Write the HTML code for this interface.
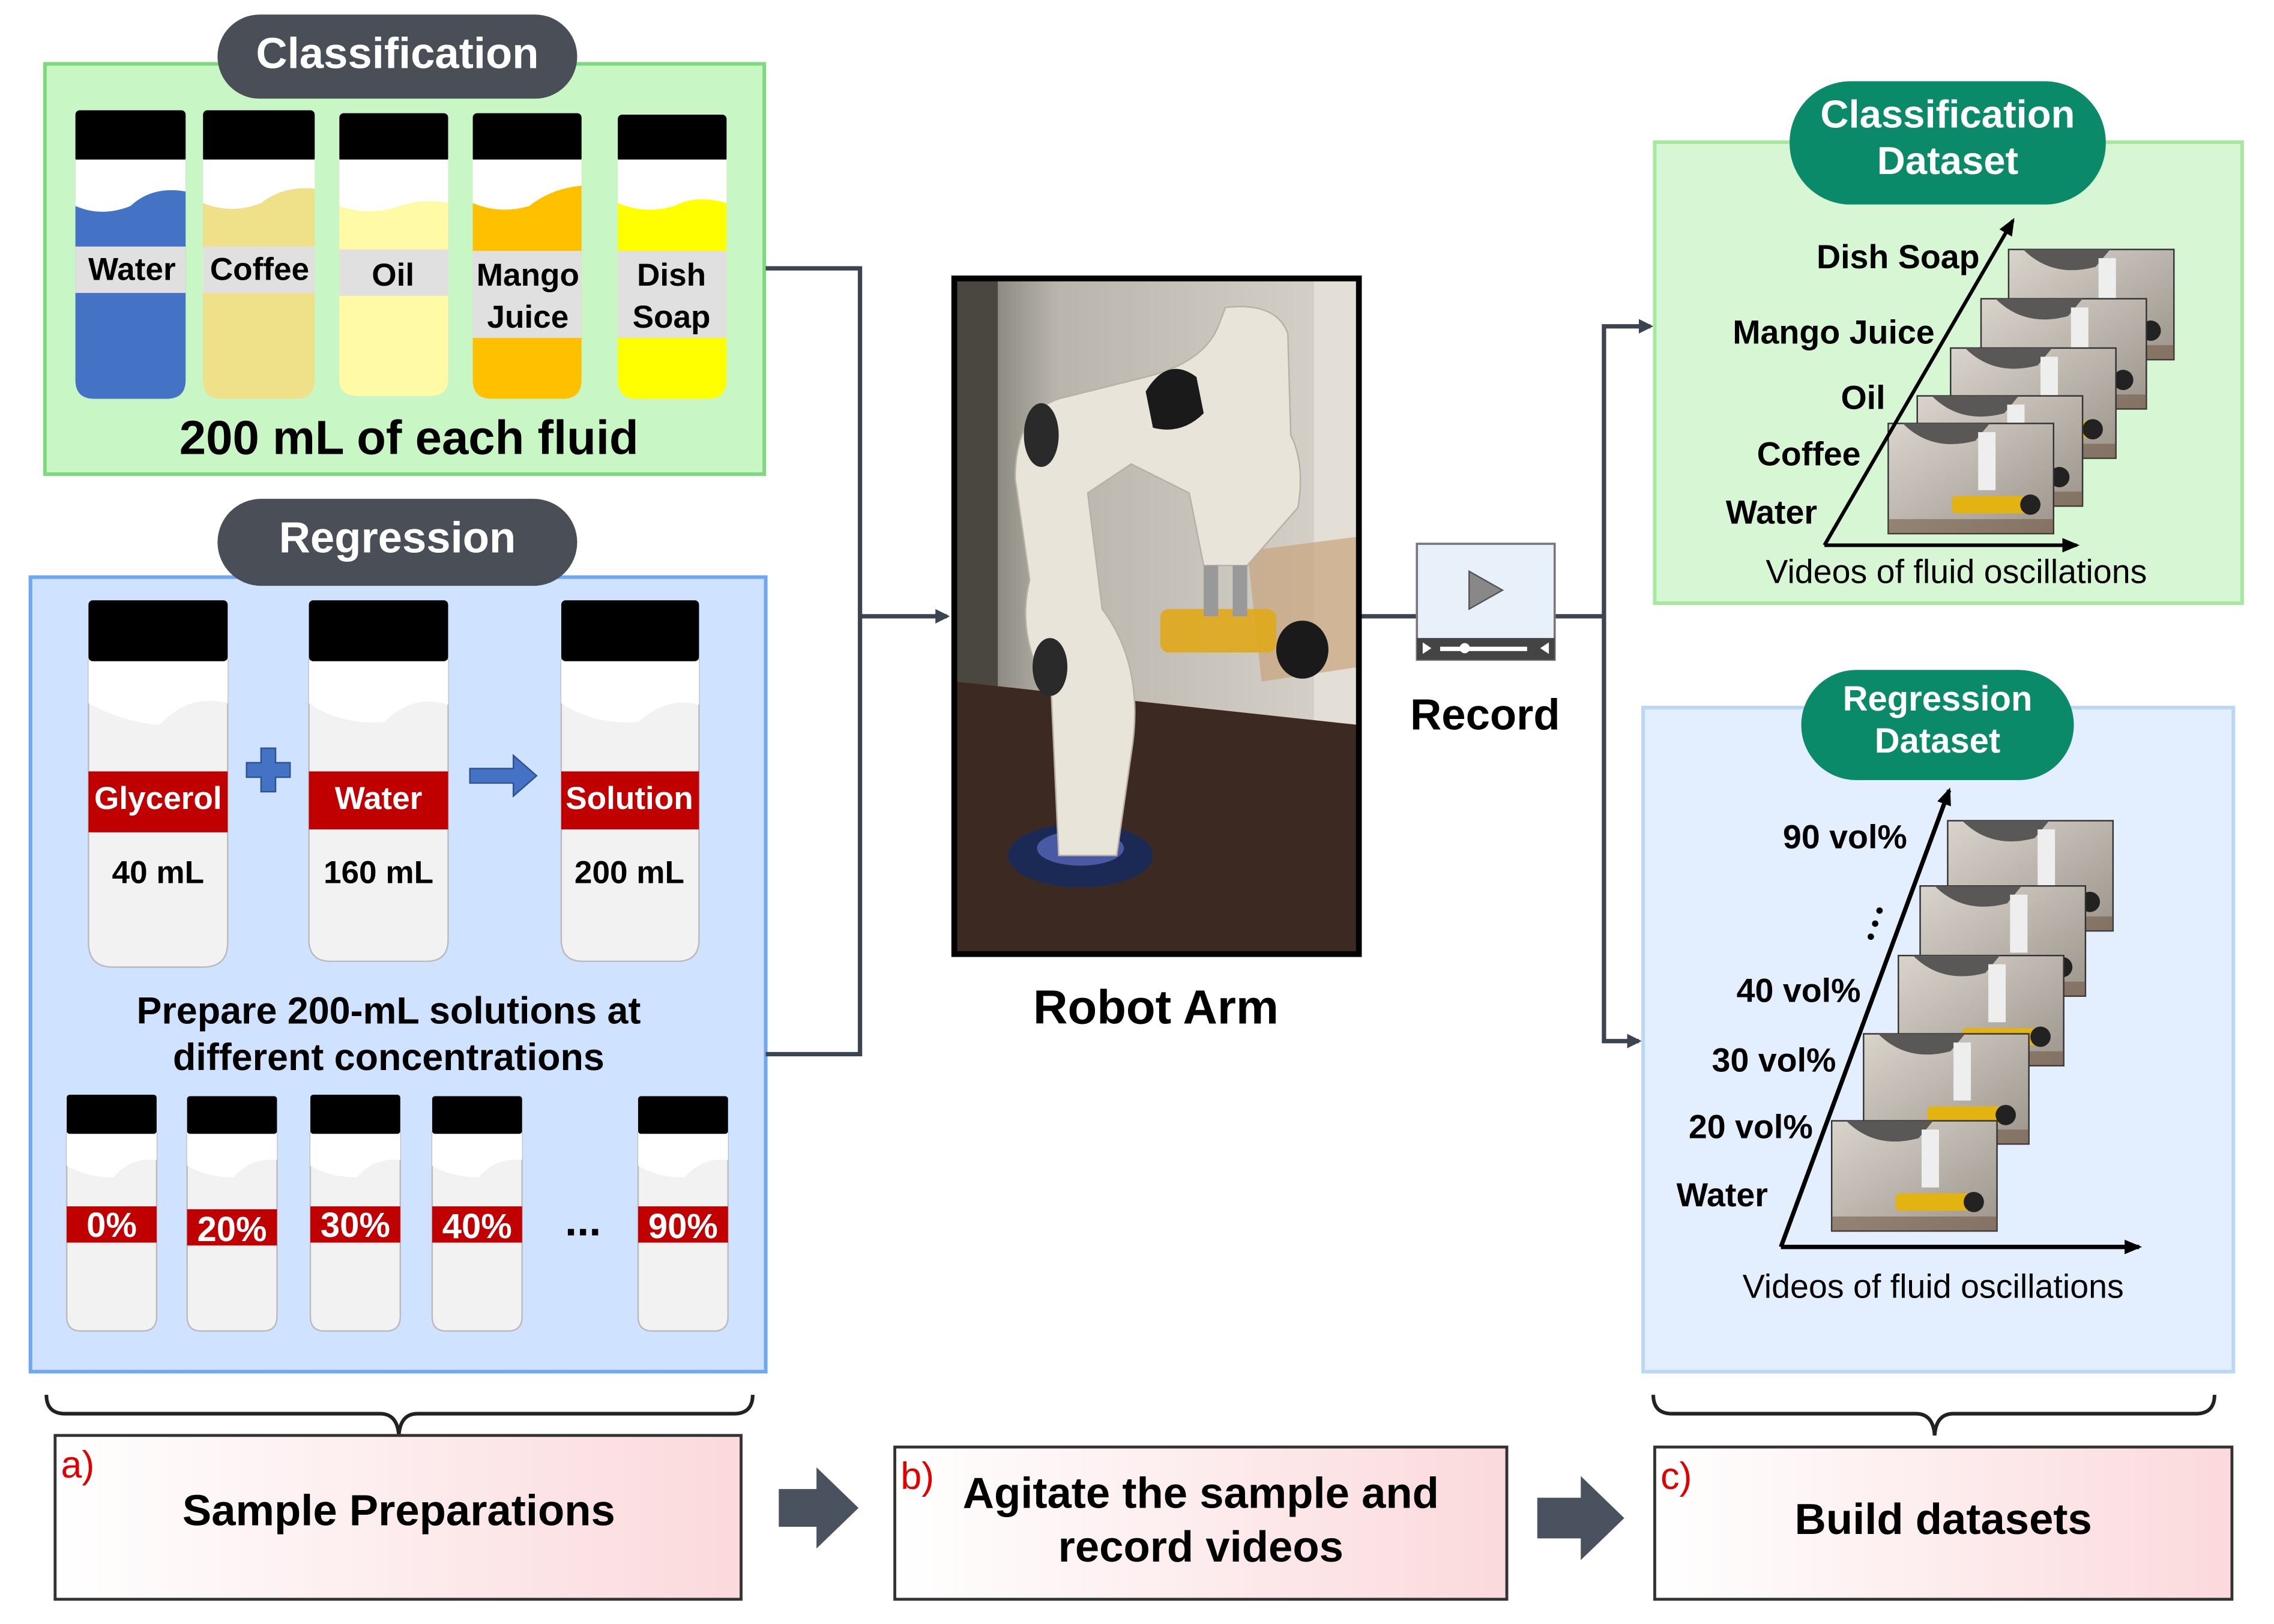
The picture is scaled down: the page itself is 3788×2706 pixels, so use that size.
<!DOCTYPE html>
<html><head><meta charset="utf-8"><style>
html,body{margin:0;padding:0;background:#fff}
svg{display:block}
text{font-family:"Liberation Sans",Arial,sans-serif}
</style></head><body>
<svg xmlns="http://www.w3.org/2000/svg" width="3788" height="2706" viewBox="0 0 1568 1120">
<defs>
<marker id="ah" markerWidth="10" markerHeight="10" refX="8" refY="5" orient="auto" markerUnits="userSpaceOnUse"><path d="M0,0 L10,5 L0,10 Z" fill="#3d4451"/></marker>
<marker id="ak" markerWidth="12" markerHeight="10" refX="10" refY="5" orient="auto" markerUnits="userSpaceOnUse"><path d="M0,0 L12,5 L0,10 Z" fill="#000"/></marker>
<linearGradient id="pk" x1="0" y1="0" x2="1" y2="0"><stop offset="0" stop-color="#fff"/><stop offset="1" stop-color="#fbd9dc"/></linearGradient>
<linearGradient id="wall" x1="0" y1="0" x2="1" y2="0"><stop offset="0" stop-color="#6b6a62"/><stop offset="0.25" stop-color="#b9b5ad"/><stop offset="1" stop-color="#d8d3cb"/></linearGradient>
<linearGradient id="fr" x1="0" y1="0" x2="1" y2="1"><stop offset="0" stop-color="#d9d4cc"/><stop offset="1" stop-color="#9d958c"/></linearGradient>
<g id="frame">
<rect x="0" y="0" width="114" height="76" fill="url(#fr)" stroke="#333" stroke-width="1"/>
<path d="M10,0 Q30,20 60,12 L70,0 Z" fill="#5a5856"/>
<rect x="62" y="6" width="12" height="40" fill="#eee"/>
<rect x="44" y="50" width="52" height="12" fill="#e3b312" rx="3"/>
<circle cx="98" cy="56" r="7" fill="#222"/>
<rect x="0" y="66" width="114" height="10" fill="#6a4f3c" opacity="0.5"/>
</g>
</defs>

<rect x="31" y="44" width="496" height="283" fill="#c8f6c4" stroke="#7ed87e" stroke-width="2.5"/>
<rect x="150" y="10" width="248" height="58" rx="29" fill="#4a4f57"/>
<text x="274" y="47" font-size="30" font-weight="bold" fill="#fff" text-anchor="middle">Classification</text>

<g>
<rect x="52" y="76" width="76" height="36" rx="3" fill="#000"/>
<path d="M52,110 H128 V262 Q128,275 115,275 H65 Q52,275 52,262 Z" fill="#4472c4"/>
<path d="M52,110 H128 V132 Q105,128 90,142 Q70,150 52,142 Z" fill="#fff"/>
<rect x="52" y="170" width="76" height="32" fill="#e0e0e0"/>
<text x="91" y="193" font-size="22" font-weight="bold" text-anchor="middle">Water</text>

<rect x="140" y="76" width="77" height="36" rx="3" fill="#000"/>
<path d="M140,110 H217 V262 Q217,275 204,275 H153 Q140,275 140,262 Z" fill="#efe08a"/>
<path d="M140,110 H217 V130 Q195,128 180,140 Q160,148 140,140 Z" fill="#fff"/>
<rect x="140" y="170" width="77" height="32" fill="#e0e0e0"/>
<text x="179" y="193" font-size="22" font-weight="bold" text-anchor="middle">Coffee</text>

<rect x="234" y="78" width="75" height="34" rx="3" fill="#000"/>
<path d="M234,110 H309 V262 Q309,273 296,273 H247 Q234,273 234,262 Z" fill="#fffaa6"/>
<path d="M234,110 H309 V140 Q290,136 270,144 Q250,148 234,142 Z" fill="#fff"/>
<rect x="234" y="172" width="75" height="32" fill="#e0e0e0"/>
<text x="271" y="197" font-size="22" font-weight="bold" text-anchor="middle">Oil</text>

<rect x="326" y="78" width="75" height="34" rx="3" fill="#000"/>
<path d="M326,110 H401 V262 Q401,275 388,275 H339 Q326,275 326,262 Z" fill="#ffc000"/>
<path d="M326,110 H401 V128 Q380,130 365,142 Q345,148 326,140 Z" fill="#fff"/>
<rect x="326" y="173" width="75" height="60" fill="#e0e0e0"/>
<text x="364" y="197" font-size="22" font-weight="bold" text-anchor="middle">Mango</text>
<text x="364" y="226" font-size="22" font-weight="bold" text-anchor="middle">Juice</text>

<rect x="426" y="79" width="75" height="33" rx="3" fill="#000"/>
<path d="M426,110 H501 V262 Q501,275 488,275 H439 Q426,275 426,262 Z" fill="#ffff00"/>
<path d="M426,110 H501 V140 Q480,134 465,142 Q445,148 426,140 Z" fill="#fff"/>
<rect x="426" y="173" width="75" height="60" fill="#e0e0e0"/>
<text x="463" y="197" font-size="22" font-weight="bold" text-anchor="middle">Dish</text>
<text x="463" y="226" font-size="22" font-weight="bold" text-anchor="middle">Soap</text>
</g>
<text x="282" y="313" font-size="33" font-weight="bold" text-anchor="middle">200 mL of  each fluid</text>

<rect x="21" y="398" width="507" height="548" fill="#cfe2ff" stroke="#6fa8f0" stroke-width="2.5"/>
<rect x="150" y="344" width="248" height="60" rx="30" fill="#4a4f57"/>
<text x="274" y="381" font-size="30" font-weight="bold" fill="#fff" text-anchor="middle">Regression</text>

<g stroke="#bbb" stroke-width="1">
<path d="M61,455 H157 V650 Q157,667 140,667 H78 Q61,667 61,650 Z" fill="#f2f2f2"/>
<path d="M213,455 H309 V648 Q309,663 294,663 H228 Q213,663 213,648 Z" fill="#f2f2f2"/>
<path d="M387,455 H482 V648 Q482,663 467,663 H402 Q387,663 387,648 Z" fill="#f2f2f2"/>
</g>
<g fill="#fff">
<path d="M61,455 H157 V485 Q130,478 110,500 Q85,498 61,485 Z"/>
<path d="M213,455 H309 V486 Q285,478 265,498 Q235,500 213,485 Z"/>
<path d="M387,455 H482 V486 Q460,480 440,498 Q410,500 387,485 Z"/>
</g>
<rect x="61" y="414" width="96" height="42" rx="3" fill="#000"/>
<rect x="213" y="414" width="96" height="42" rx="3" fill="#000"/>
<rect x="387" y="414" width="95" height="42" rx="3" fill="#000"/>
<rect x="61" y="532" width="96" height="42" fill="#c00000"/>
<rect x="213" y="532" width="96" height="40" fill="#c00000"/>
<rect x="387" y="532" width="95" height="40" fill="#c00000"/>
<text x="109" y="558" font-size="22" font-weight="bold" fill="#fff" text-anchor="middle">Glycerol</text>
<text x="261" y="558" font-size="22" font-weight="bold" fill="#fff" text-anchor="middle">Water</text>
<text x="434" y="558" font-size="22" font-weight="bold" fill="#fff" text-anchor="middle">Solution</text>
<text x="109" y="609" font-size="22" font-weight="bold" text-anchor="middle">40 mL</text>
<text x="261" y="609" font-size="22" font-weight="bold" text-anchor="middle">160 mL</text>
<text x="434" y="609" font-size="22" font-weight="bold" text-anchor="middle">200 mL</text>
<path d="M180,516 h10 v10 h10 v10 h-10 v10 h-10 v-10 h-10 v-10 h10 Z" fill="#4472c4" stroke="#2f528f" stroke-width="1"/>
<path d="M324,530 h30 v-9 l16,14 l-16,14 v-9 h-30 Z" fill="#4472c4" stroke="#2f528f" stroke-width="1"/>

<text x="268" y="706" font-size="26" font-weight="bold" text-anchor="middle">Prepare 200-mL solutions at</text>
<text x="268" y="738" font-size="26" font-weight="bold" text-anchor="middle">different concentrations</text>

<g>
<g stroke="#bbb" stroke-width="1" fill="#f2f2f2">
<path d="M46,781 H108 V908 Q108,918 98,918 H56 Q46,918 46,908 Z"/>
<path d="M129,781 H191 V908 Q191,918 181,918 H139 Q129,918 129,908 Z"/>
<path d="M214,781 H276 V908 Q276,918 266,918 H224 Q214,918 214,908 Z"/>
<path d="M298,781 H360 V908 Q360,918 350,918 H308 Q298,918 298,908 Z"/>
<path d="M440,781 H502 V908 Q502,918 492,918 H450 Q440,918 440,908 Z"/>
</g>
<g fill="#fff">
<path d="M46,781 H108 V800 Q90,798 78,812 Q60,812 46,804 Z"/>
<path d="M129,781 H191 V800 Q173,798 161,812 Q143,812 129,804 Z"/>
<path d="M214,781 H276 V800 Q258,798 246,812 Q228,812 214,804 Z"/>
<path d="M298,781 H360 V800 Q342,798 330,812 Q312,812 298,804 Z"/>
<path d="M440,781 H502 V800 Q484,798 472,812 Q454,812 440,804 Z"/>
</g>
<g fill="#000">
<rect x="46" y="755" width="62" height="27" rx="2"/>
<rect x="129" y="756" width="62" height="26" rx="2"/>
<rect x="214" y="755" width="62" height="27" rx="2"/>
<rect x="298" y="756" width="62" height="26" rx="2"/>
<rect x="440" y="756" width="62" height="26" rx="2"/>
</g>
<g fill="#c00000">
<rect x="46" y="832" width="62" height="25"/>
<rect x="129" y="834" width="62" height="25"/>
<rect x="214" y="832" width="62" height="25"/>
<rect x="298" y="832" width="62" height="25"/>
<rect x="440" y="832" width="62" height="25"/>
</g>
<g font-size="24" font-weight="bold" fill="#fff" text-anchor="middle">
<text x="77" y="853">0%</text>
<text x="160" y="856">20%</text>
<text x="245" y="853">30%</text>
<text x="329" y="854">40%</text>
<text x="471" y="854">90%</text>
</g>
<text x="402" y="852" font-size="30" font-weight="bold" text-anchor="middle">...</text>
</g>

<g fill="none" stroke="#3d4451" stroke-width="3">
<path d="M528,185 H593 V727 H528"/>
<path d="M593,425 H653" marker-end="url(#ah)"/>
<path d="M937,425 H977"/>
<path d="M1072,425 H1106 V225 H1138" marker-end="url(#ah)"/>
<path d="M1106,425 V718 H1130" marker-end="url(#ah)"/>
</g>

<g>
<rect x="658" y="192" width="279" height="466" fill="url(#wall)"/>
<rect x="658" y="192" width="30" height="466" fill="#4a4740"/>
<rect x="906" y="192" width="31" height="466" fill="#e4dfd6"/>
<path d="M658,470 L937,500 V658 H658 Z" fill="#3c2a22"/>
<path d="M860,380 L937,370 V460 L870,470 Z" fill="#c8a47c" opacity="0.7"/>
<ellipse cx="745" cy="590" rx="50" ry="22" fill="#1b2a55"/>
<ellipse cx="745" cy="585" rx="30" ry="12" fill="#6a7ad8" opacity="0.6"/>
<path d="M730,590 L725,480 Q700,440 710,400 L700,330 Q700,285 730,275 L790,260 Q830,250 840,225 L845,212 Q880,208 888,230 L890,300 Q900,320 895,350 L860,390 L830,390 L820,340 L780,320 L750,340 L760,420 Q790,460 780,520 L770,590 Z" fill="#e9e4da" stroke="#b7b1a5" stroke-width="1"/>
<path d="M790,270 Q805,245 825,260 L830,285 Q815,300 795,295 Z" fill="#1a1a1a"/>
<ellipse cx="718" cy="300" rx="12" ry="22" fill="#2a2a2a"/>
<ellipse cx="724" cy="460" rx="12" ry="20" fill="#2a2a2a"/>
<rect x="800" y="420" width="80" height="30" rx="6" fill="#e0a81a" opacity="0.9"/>
<ellipse cx="898" cy="448" rx="18" ry="20" fill="#1a1a1a"/>
<rect x="830" y="390" width="10" height="35" fill="#999"/>
<rect x="850" y="390" width="10" height="35" fill="#999"/>
<rect x="658" y="192" width="279" height="466" fill="none" stroke="#000" stroke-width="4"/>
</g>
<text x="797" y="706" font-size="33" font-weight="bold" text-anchor="middle">Robot Arm</text>

<rect x="977" y="375" width="95" height="80" fill="#e8f0fa" stroke="#777" stroke-width="1.5"/>
<path d="M1013,394 L1036,407 L1013,420 Z" fill="#888" stroke="#555" stroke-width="1"/>
<rect x="977" y="440" width="95" height="15" fill="#444"/>
<rect x="993" y="446" width="60" height="3" fill="#fff"/>
<circle cx="1010" cy="447" r="3.5" fill="#fff"/>
<path d="M981,443 l6,4 l-6,4 Z M1068,443 l-6,4 l6,4 Z" fill="#fff"/>
<text x="1024" y="503" font-size="30" font-weight="bold" text-anchor="middle">Record</text>

<rect x="1141" y="98" width="405" height="318" fill="#d7f7d4" stroke="#a6e8a0" stroke-width="2.5"/>
<rect x="1234" y="56" width="218" height="85" rx="42" fill="#0b8a6a"/>
<text x="1343" y="88" font-size="27" font-weight="bold" fill="#fff" text-anchor="middle">Classification</text>
<text x="1343" y="120" font-size="27" font-weight="bold" fill="#fff" text-anchor="middle">Dataset</text>
<use href="#frame" x="1385" y="172"/>
<use href="#frame" x="1366" y="206"/>
<use href="#frame" x="1345" y="240"/>
<use href="#frame" x="1322" y="273"/>
<use href="#frame" x="1302" y="292"/>
<g stroke="#000" stroke-width="2.5" fill="none">
<path d="M1258,376 L1388,152" marker-end="url(#ak)"/>
<path d="M1258,376 L1432,376" marker-end="url(#ak)"/>
</g>
<g font-size="23" font-weight="bold" text-anchor="end">
<text x="1365" y="185">Dish Soap</text>
<text x="1334" y="237">Mango Juice</text>
<text x="1300" y="282">Oil</text>
<text x="1283" y="321">Coffee</text>
<text x="1253" y="361">Water</text>
</g>
<text x="1349" y="402" font-size="23" text-anchor="middle">Videos of fluid oscillations</text>

<rect x="1133" y="488" width="407" height="458" fill="#e3efff" stroke="#bcd6f5" stroke-width="2.5"/>
<rect x="1242" y="462" width="188" height="76" rx="38" fill="#0b8a6a"/>
<text x="1336" y="490" font-size="24" font-weight="bold" fill="#fff" text-anchor="middle">Regression</text>
<text x="1336" y="519" font-size="24" font-weight="bold" fill="#fff" text-anchor="middle">Dataset</text>
<use href="#frame" x="1343" y="566"/>
<use href="#frame" x="1324" y="611"/>
<use href="#frame" x="1309" y="659"/>
<use href="#frame" x="1285" y="713"/>
<use href="#frame" x="1263" y="773"/>
<g stroke="#000" stroke-width="3" fill="none">
<path d="M1228,860 L1344,545" marker-end="url(#ak)"/>
<path d="M1228,860 L1475,860" marker-end="url(#ak)"/>
</g>
<g font-size="23" font-weight="bold" text-anchor="end">
<text x="1315" y="585">90 vol%</text>
<text x="1283" y="691">40 vol%</text>
<text x="1266" y="739">30 vol%</text>
<text x="1250" y="785">20 vol%</text>
<text x="1219" y="832">Water</text>
</g>
<g fill="#000"><circle cx="1296" cy="628" r="2.2"/><circle cx="1293" cy="637" r="2.2"/><circle cx="1290" cy="646" r="2.2"/></g>
<text x="1333" y="895" font-size="23" text-anchor="middle">Videos of fluid oscillations</text>

<g fill="none" stroke="#222" stroke-width="2.5">
<path d="M32,962 Q32,975 45,975 H262 Q274,975 275,990 Q276,975 288,975 H506 Q519,975 519,962"/>
<path d="M1140,962 Q1140,975 1153,975 H1321 Q1333,975 1334,990 Q1335,975 1347,975 H1514 Q1527,975 1527,962"/>
</g>

<rect x="38" y="990" width="473" height="113" fill="url(#pk)" stroke="#333" stroke-width="2"/>
<text x="42" y="1019" font-size="26" fill="#e00000">a)</text>
<text x="275" y="1052" font-size="30" font-weight="bold" text-anchor="middle">Sample Preparations</text>
<rect x="617" y="998" width="422" height="105" fill="url(#pk)" stroke="#333" stroke-width="2"/>
<text x="621" y="1027" font-size="26" fill="#e00000">b)</text>
<text x="828" y="1040" font-size="30" font-weight="bold" text-anchor="middle">Agitate the sample and</text>
<text x="828" y="1077" font-size="30" font-weight="bold" text-anchor="middle">record videos</text>
<rect x="1141" y="998" width="398" height="105" fill="url(#pk)" stroke="#333" stroke-width="2"/>
<text x="1145" y="1027" font-size="26" fill="#e00000">c)</text>
<text x="1340" y="1058" font-size="30" font-weight="bold" text-anchor="middle">Build datasets</text>

<path d="M537,1027 H563 V1012 L592,1040 L563,1068 V1053 H537 Z" fill="#4a5260"/>
<path d="M1060,1033 H1090 V1018 L1120,1047 L1090,1076 V1061 H1060 Z" fill="#4a5260"/>
</svg>
</body></html>
